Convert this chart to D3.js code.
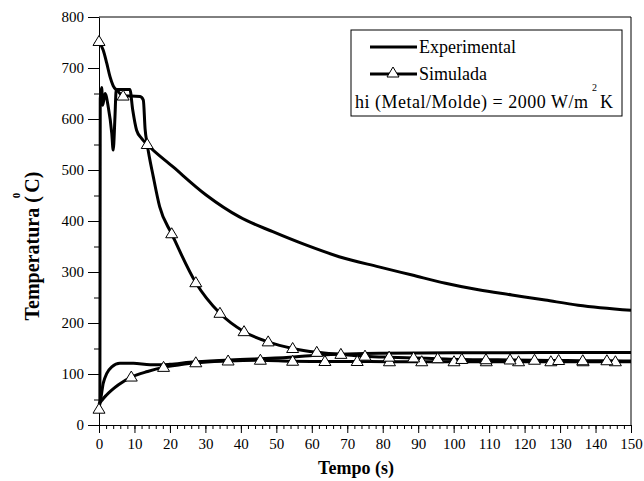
<!DOCTYPE html>
<html>
<head>
<meta charset="utf-8">
<script src="https://cdn.jsdelivr.net/npm/d3@7"></script>
<style>
  body { margin: 0; background: #fff; }
  svg, svg text { font-family: "Liberation Serif", "DejaVu Serif", "Noto Serif", serif; }
</style>
</head>
<body>
<div id="chart"></div>
<script>
const width = 644;
const height = 481;
const serif = "'Liberation Serif', 'DejaVu Serif', serif";

// tempo (s), temperatura (C)
const expMetal = [[0,40],[0.25,45],[0.35,640],[0.75,662],[1.05,627],[1.7,650],[2.6,624],[3.6,572],[4.0,539],[4.5,604],
  [4.8,653],[5.0,658],[8.7,658],[9.5,618],[10.6,578],[12.0,562],[13.6,550],[20.9,506],[30.2,451],[39.6,408],
  [49,379],[58.3,353],[67.7,330],[78.9,310],[88.3,294],[97.7,278],[107,265],[116.4,255],[125.8,245],[135.1,235],[150,225]];

const expMolde = [[0,40],[0.3,45],[1.2,82],[2.2,101],[3.6,114],[5.9,121],[9.7,121],[14.4,118],[17.2,118],[20,119],
  [25.6,123],[36.9,127.5],[53.8,132.7],[59.4,136],[70,139],[79,140.5],[100,141.5],[125,142],[150,142]];

const simMetal = [[0,752],[1.2,735],[2.2,709],[3.1,683],[4,665],[5.4,654],[6.8,645],[9,645],[11.6,644],[12.5,637],
  [13,580],[13.6,550],[15.3,487],[17.1,428],[20.5,375],[27.3,279],[34.1,219],[40.9,183],[47.7,163],[54.6,150],
  [61.4,142.5],[68.2,138.5],[75,135],[81.8,133],[88.7,131.5],[95.5,130],[102.3,128.5],[109.1,128],[115.9,127.5],
  [122.8,127],[129.6,126.5],[136.4,126],[143.2,126],[150,125.5]];
const simMetalMarks = [0,6.8,13.6,20.5,27.3,34.1,40.9,47.7,54.6,61.4,68.2,75,81.8,88.7,95.5,102.3,109.1,115.9,122.8,129.6,136.4,143.2];

const simMolde = [[0,31],[0.3,43],[1,50],[2,58],[3.5,68],[5.5,79],[9.1,94],[13.7,105],[18.2,113],[22.8,118],[27.3,122],
  [36.4,125.5],[45.5,127],[54.6,125],[63.7,124.5],[72.8,124.5],[81.9,124],[91,124],[100.1,124],[109.2,124],
  [118.3,124],[127.4,124],[136.5,124],[145.6,124],[150,124]];
const simMoldeMarks = [0,9.1,18.2,27.3,36.4,45.5,54.6,63.7,72.8,81.9,91,100.1,109.2,118.3,127.4,136.5,145.6];

const xTicks = d3.range(0, 151, 10);
const yTicks = d3.range(0, 801, 100);

const marginTop = 17;
const marginRight = 13;
const marginBottom = 56;
const marginLeft = 99;

const x = d3.scaleLinear()
    .domain([0, 150])
    .range([marginLeft, width - marginRight]);

const y = d3.scaleLinear()
    .domain([0, 800])
    .range([height - marginBottom, marginTop]);

const svg = d3.select("#chart")
  .append("svg")
    .attr("width", width)
    .attr("height", height)
    .attr("viewBox", [0, 0, width, height]);

// frame (top and right)
svg.append("path")
    .attr("d", `M${x(0)},${y(800)}H${x(150)}V${y(0)}`)
    .attr("fill", "none")
    .attr("stroke", "#000")
    .attr("stroke-width", 1);

// x axis
svg.append("g")
    .attr("transform", `translate(0,${y(0)})`)
    .call(d3.axisBottom(x).tickValues(d3.range(0, 151, 2)).tickSize(4).tickFormat(""))
    .call(g => g.select(".domain").remove());
svg.append("g")
    .attr("transform", `translate(0,${y(0)})`)
    .call(d3.axisBottom(x).tickValues(xTicks).tickSize(8).tickSizeOuter(0).tickPadding(5))
    .attr("font-family", serif)
    .attr("font-size", 15);

// y axis
svg.append("g")
    .attr("transform", `translate(${x(0)},0)`)
    .call(d3.axisLeft(y).tickValues(d3.range(0, 801, 50)).tickSize(5).tickFormat(""))
    .call(g => g.select(".domain").remove());
svg.append("g")
    .attr("transform", `translate(${x(0)},0)`)
    .call(d3.axisLeft(y).tickValues(yTicks).tickSize(11).tickSizeOuter(0).tickPadding(4))
    .attr("font-family", serif)
    .attr("font-size", 15);

svg.selectAll(".tick line, .domain").attr("stroke", "#000");
svg.selectAll(".tick text").attr("fill", "#000");

// curves
const line = d3.line()
    .x(d => x(d[0]))
    .y(d => y(d[1]))
    .curve(d3.curveMonotoneX);

const curves = [expMolde, simMolde, expMetal, simMetal];
svg.append("g")
  .selectAll("path")
  .data(curves)
  .join("path")
    .attr("d", line)
    .attr("fill", "none")
    .attr("stroke", "#000")
    .attr("stroke-width", 3)
    .attr("stroke-linejoin", "round");

const tri = "M0,-6L6,4L-6,4Z";
const markPts = [
  ...simMoldeMarks.map(t => simMolde.find(d => d[0] === t)),
  ...simMetalMarks.map(t => simMetal.find(d => d[0] === t))
];
svg.append("g")
  .selectAll("path")
  .data(markPts)
  .join("path")
    .attr("transform", d => `translate(${x(d[0])},${y(d[1])})`)
    .attr("d", tri)
    .attr("fill", "#fff")
    .attr("stroke", "#000")
    .attr("stroke-width", 1);

// legend
const lg = svg.append("g").attr("font-family", serif);
lg.append("rect")
    .attr("x", 351).attr("y", 30)
    .attr("width", 271).attr("height", 86)
    .attr("fill", "#fff")
    .attr("stroke", "#000")
    .attr("stroke-width", 1);
lg.append("line")
    .attr("x1", 370).attr("x2", 417).attr("y1", 47).attr("y2", 47)
    .attr("stroke", "#000").attr("stroke-width", 3);
lg.append("line")
    .attr("x1", 370).attr("x2", 417).attr("y1", 74).attr("y2", 74)
    .attr("stroke", "#000").attr("stroke-width", 3);
lg.append("path")
    .attr("transform", "translate(393,73)")
    .attr("d", tri)
    .attr("fill", "#fff").attr("stroke", "#000");
lg.append("text")
    .attr("x", 419).attr("y", 53)
    .attr("font-size", 18)
    .text("Experimental");
lg.append("text")
    .attr("x", 419).attr("y", 80)
    .attr("font-size", 18)
    .text("Simulada");
lg.append("text")
    .attr("x", 355).attr("y", 108)
    .attr("font-size", 18)
    .attr("textLength", 233)
    .attr("lengthAdjust", "spacing")
    .text("hi (Metal/Molde) = 2000 W/m");
lg.append("text")
    .attr("x", 592).attr("y", 91)
    .attr("font-size", 10)
    .text("2");
lg.append("text")
    .attr("x", 600).attr("y", 108)
    .attr("font-size", 18)
    .text("K");

// axis titles
svg.append("text")
    .attr("x", 356)
    .attr("y", 474)
    .attr("text-anchor", "middle")
    .attr("font-family", serif)
    .attr("font-size", 18)
    .attr("font-weight", "bold")
    .text("Tempo (s)");

const yt = svg.append("text")
    .attr("transform", "translate(39,246) rotate(-90)")
    .attr("text-anchor", "middle")
    .attr("font-family", serif)
    .attr("font-size", 20)
    .attr("font-weight", "bold");
yt.append("tspan").text("Temperatura ( ");
yt.append("tspan").attr("dy", -19).attr("dx", -7).attr("font-size", 11).text("0");
yt.append("tspan").attr("dy", 19).text("C)");
</script>
</body>
</html>
